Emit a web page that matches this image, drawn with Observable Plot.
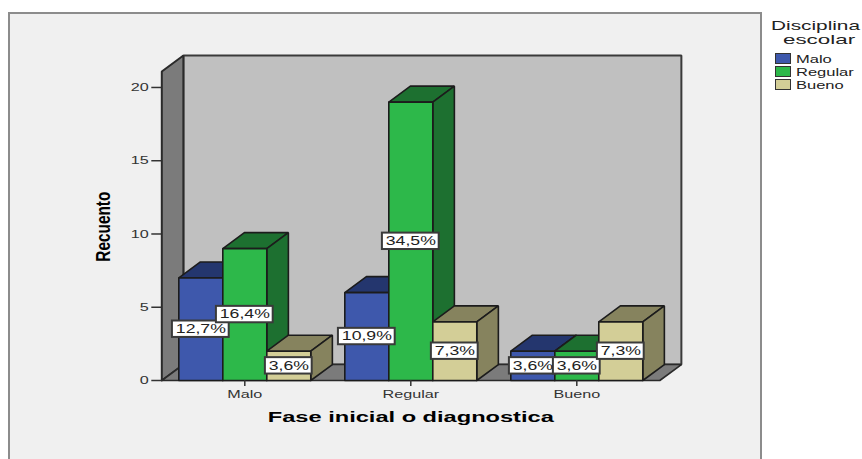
<!DOCTYPE html>
<html>
<head>
<meta charset="utf-8">
<script src="https://cdn.jsdelivr.net/npm/d3@7"></script>
<script src="https://cdn.jsdelivr.net/npm/@observablehq/plot@0.6"></script>
<style>
html,body{margin:0;padding:0;background:#fff;width:862px;height:459px;overflow:hidden;font-family:"Liberation Sans",Arial,sans-serif}
#panel{position:absolute;left:8px;top:12px;width:750px;height:470px;background:#f0f0f0;border:2px solid #8c8c8c}
#chart{position:absolute;left:0;top:0}
#legend{position:absolute;left:0;top:0;width:862px;height:100px;color:#222}
.lt{position:absolute;white-space:nowrap;transform-origin:left center}
.sw{position:absolute;left:775px;width:14px;height:9px;border:1.5px solid #333}
</style>
</head>
<body>
<div id="panel"></div>
<div id="chart"></div>
<div id="legend"></div>
<script>
const categories = ["Malo", "Regular", "Bueno"];
const seriesNames = ["Malo", "Regular", "Bueno"];
const malo = [7, 6, 2];
const regular = [9, 19, 2];
const bueno = [2, 4, 4];
const maloPct = ["12,7%", "10,9%", "3,6%"];
const regularPct = ["16,4%", "34,5%", "3,6%"];
const buenoPct = ["3,6%", "7,3%", "7,3%"];
const yTicks = [0, 5, 10, 15, 20];
const frontColors = ["#3e58ac", "#2db84a", "#d3ce97"];
const darkColors = ["#24366e", "#1d7030", "#86835e"];

const counts = [malo, regular, bueno];
const pcts = [maloPct, regularPct, buenoPct];
const yMax = 21.09, depthX = 0.13, depthY = 1.09, barW = 0.265;
const xMin = -0.5, xMax = 2.5;
const line = "#1c1c1c";

const poly = (pts, fill, stroke = line, strokeWidth = 1.6) =>
  Plot.line([...pts, pts[0]].map(([x, y]) => ({x, y})), {x: "x", y: "y", fill, stroke, strokeWidth, strokeLinejoin: "miter"});

const marks = [
  // walls and floor
  poly([[xMin + depthX, depthY], [xMax + depthX, depthY], [xMax + depthX, yMax + depthY], [xMin + depthX, yMax + depthY]], "#c0c0c0", "#3a3a3a", 2),
  poly([[xMin, 0], [xMin + depthX, depthY], [xMin + depthX, yMax + depthY], [xMin, yMax]], "#7b7b7b", "#2a2a2a", 2),
  poly([[xMin, 0], [xMax, 0], [xMax + depthX, depthY], [xMin + depthX, depthY]], "#7b7b7b", "#2a2a2a", 1.6)
];

const boxes = [];
categories.forEach((_, i) => {
  seriesNames.forEach((_, j) => {
    const v = counts[j][i];
    const x1 = i + (j - 1.5) * barW, x2 = x1 + barW;
    marks.push(
      poly([[x1, v], [x2, v], [x2 + depthX, v + depthY], [x1 + depthX, v + depthY]], darkColors[j]),
      poly([[x2, 0], [x2 + depthX, depthY], [x2 + depthX, v + depthY], [x2, v]], darkColors[j]),
      poly([[x1, 0], [x2, 0], [x2, v], [x1, v]], frontColors[j])
    );
    boxes.push({xc: i + (j - 1) * barW, yc: v / 2, label: pcts[j][i], hw: pcts[j][i].length > 4 ? 0.171 : 0.141});
  });
});

marks.push(
  Plot.rect(boxes, {x1: d => d.xc - d.hw, x2: d => d.xc + d.hw, y1: d => d.yc - 0.56, y2: d => d.yc + 0.56, fill: "#fff", stroke: "#3a3a3a", strokeWidth: 2}),
  Plot.text(boxes, {x: "xc", y: "yc", text: "label", fontSize: 12, fill: "#222"}),
  Plot.axisY(yTicks, {anchor: "left", tickSize: 10, tickPadding: 3, label: null, fontSize: 11, stroke: "#333", color: "#333", strokeWidth: 1.5}),
  Plot.axisX([0, 1, 2], {anchor: "bottom", tickSize: 6, tickPadding: 4, label: null, tickFormat: i => categories[i], fontSize: 11, stroke: "#333", color: "#333", strokeWidth: 1.5}),
  Plot.text(["Fase inicial o diagnostica"], {x: 1, y: 0, dy: 37, text: d => d, fontSize: 14, fontWeight: "bold", fill: "#000"}),
  Plot.text(["Recuento"], {x: xMin, y: 10.5, dx: -59, rotate: -90, text: d => d, fontSize: 21, fontWeight: "bold", fill: "#000"})
);

const svg = Plot.plot({
  width: 862,
  height: 459,
  marginLeft: 161.3,
  marginRight: 202.7,
  marginTop: 71,
  marginBottom: 79,
  x: {domain: [xMin, xMax]},
  y: {domain: [0, yMax]},
  style: {background: "transparent", fontFamily: "'Liberation Sans', Arial, sans-serif", overflow: "visible"},
  marks
});
document.getElementById("chart").appendChild(svg);

// the reference's text is stretched: fit each label to its reference width
const fixedWidths = {"Fase inicial o diagnostica": 286, "Recuento": 70};
d3.select(svg).selectAll("text").each(function () {
  const t = this.textContent;
  if (!t) return;
  const w = fixedWidths[t] || this.getComputedTextLength() * 1.47;
  this.setAttribute("textLength", w);
  this.setAttribute("lengthAdjust", "spacingAndGlyphs");
});

// legend
const legend = document.getElementById("legend");
const addText = (t, left, cy, size, sx) => {
  const s = document.createElement("div");
  s.className = "lt";
  s.textContent = t;
  s.style.cssText = `left:${left}px;top:${cy - size * 0.6}px;font-size:${size}px;line-height:${size * 1.2}px;transform:scaleX(${sx})`;
  legend.appendChild(s);
};
addText("Disciplina", 771, 25.5, 13, 1.6);
addText("escolar", 783, 40, 13, 1.72);
seriesNames.forEach((n, j) => {
  const cy = 60 + j * 13;
  const sw = document.createElement("div");
  sw.className = "sw";
  sw.style.top = (cy - 7) + "px";
  sw.style.background = frontColors[j];
  legend.appendChild(sw);
  addText(n, 796, cy, 11, 1.5);
});
</script>
</body>
</html>
